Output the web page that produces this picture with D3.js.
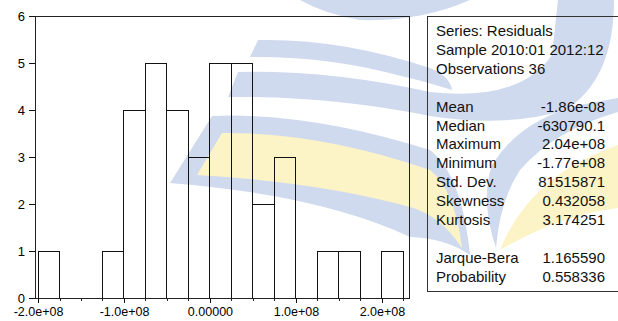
<!DOCTYPE html>
<html>
<head>
<meta charset="utf-8">
<script src="https://cdn.jsdelivr.net/npm/d3@7"></script>
<style>
  html, body { margin: 0; padding: 0; background: #fff; }
  svg { display: block; font-family: "Liberation Sans", Arial, sans-serif; }
</style>
</head>
<body>
<svg id="chart" width="618" height="321"></svg>
<script>
// ---- data ----
const binLower = [-2.0e8, -1.75e8, -1.5e8, -1.25e8, -1.0e8, -0.75e8, -0.5e8, -0.25e8,
                  0, 0.25e8, 0.5e8, 0.75e8, 1.0e8, 1.25e8, 1.5e8, 1.75e8, 2.0e8];
const binWidth = 0.25e8;
const counts = [1, 0, 0, 1, 4, 5, 4, 3, 5, 5, 2, 3, 0, 1, 1, 0, 1];
const xTickValues = [-2.0e8, -1.0e8, 0, 1.0e8, 2.0e8];
const xTickLabels = ["-2.0e+08", "-1.0e+08", "0.00000", "1.0e+08", "2.0e+08"];
const yTickValues = [0, 1, 2, 3, 4, 5, 6];
const headerLines = ["Series: Residuals", "Sample 2010:01 2012:12", "Observations 36"];
const statLabels = ["Mean", "Median", "Maximum", "Minimum", "Std. Dev.", "Skewness", "Kurtosis"];
const statValues = ["-1.86e-08", "-630790.1", "2.04e+08", "-1.77e+08", "81515871", "0.432058", "3.174251"];
const testLabels = ["Jarque-Bera", "Probability"];
const testValues = ["1.165590", "0.558336"];

// ---- layout ----
const svg = d3.select("#chart");
const plot = { left: 35, right: 409, top: 16, bottom: 298 };
const x = d3.scaleLinear().domain([-2.035e8, 2.315e8]).range([plot.left, plot.right]);
const y = d3.scaleLinear().domain([0, 6]).range([plot.bottom, plot.top]);

// ---- background watermark (decorative) ----
const wm = svg.append("g").attr("class", "watermark");
const blue = "#cfdaee", yellow = "#fcf4c6";
wm.append("path").attr("fill", blue)
  .attr("d", "M300,0 L470,0 Q420,22 360,20 Q325,14 300,0 Z");
wm.append("path").attr("fill", blue)
  .attr("d", "M250,57 L258,40 Q340,38 430,68 Q450,76 452,90 Q420,80 405,77 Q330,56 250,57 Z");
wm.append("path").attr("fill", blue)
  .attr("d", "M228,97 L238,72 Q330,70 430,92 Q520,102 552,55 L558,0 L614,0 Q614,80 565,110 Q505,128 430,116 Q330,96 228,97 Z");
wm.append("path").attr("fill", blue)
  .attr("d", "M170,183 L212,116 Q310,112 430,150 Q462,175 470,255 Q445,238 410,237 Q320,195 170,183 Z");
wm.append("path").attr("fill", yellow)
  .attr("d", "M197,175 L222,133 Q320,132 430,170 Q455,190 462,248 Q440,215 410,207 Q320,182 197,175 Z");
wm.append("path").attr("fill", blue)
  .attr("d", "M618,112 Q555,130 520,170 Q500,200 496,248 Q480,200 492,165 Q520,120 580,105 L618,98 Z");
wm.append("path").attr("fill", yellow)
  .attr("d", "M500,250 Q530,175 618,145 L618,208 Q560,215 500,250 Z");

// ---- histogram bars ----
const bars = binLower.map((lo, i) => ({ lo, hi: lo + binWidth, n: counts[i] })).filter(d => d.n > 0);
svg.append("g").selectAll("rect").data(bars).join("rect")
  .attr("x", d => x(d.lo))
  .attr("y", d => y(d.n))
  .attr("width", d => x(d.hi) - x(d.lo))
  .attr("height", d => y(0) - y(d.n))
  .attr("fill", "none")
  .attr("stroke", "#111")
  .attr("stroke-width", 1)
  .attr("shape-rendering", "crispEdges");

// ---- frame ----
svg.append("rect")
  .attr("x", plot.left).attr("y", plot.top)
  .attr("width", plot.right - plot.left).attr("height", plot.bottom - plot.top)
  .attr("fill", "none").attr("stroke", "#222").attr("stroke-width", 1)
  .attr("shape-rendering", "crispEdges");

// ---- x axis ----
const minorTicks = binLower.concat([binLower[binLower.length - 1] + binWidth]);
svg.append("g")
  .attr("transform", `translate(0,${plot.bottom})`)
  .call(d3.axisBottom(x).tickValues(minorTicks).tickSize(3).tickFormat(""))
  .call(g => g.select(".domain").remove())
  .call(g => g.selectAll("line").attr("stroke", "#222").attr("shape-rendering", "crispEdges"));
const xAxis = svg.append("g")
  .attr("transform", `translate(0,${plot.bottom})`)
  .call(d3.axisBottom(x).tickValues(xTickValues).tickSize(5).tickPadding(4)
    .tickFormat((d, i) => xTickLabels[i]));
xAxis.select(".domain").remove();
xAxis.selectAll("line").attr("stroke", "#111").attr("shape-rendering", "crispEdges");
xAxis.selectAll("text").attr("font-size", 12.5).attr("fill", "#000")
  .attr("font-family", "Liberation Sans, Arial, sans-serif");

// ---- y axis ----
const yAxis = svg.append("g")
  .attr("transform", `translate(${plot.left},0)`)
  .call(d3.axisLeft(y).tickValues(yTickValues).tickSize(6).tickPadding(4).tickFormat(d3.format("d")));
yAxis.select(".domain").remove();
yAxis.selectAll("line").attr("stroke", "#111").attr("shape-rendering", "crispEdges");
yAxis.selectAll("text").attr("font-size", 13).attr("fill", "#000")
  .attr("font-family", "Liberation Sans, Arial, sans-serif");

// ---- statistics box ----
const box = { left: 427, top: 16, bottom: 291 };
svg.append("rect")
  .attr("x", box.left).attr("y", box.top)
  .attr("width", 240).attr("height", box.bottom - box.top)
  .attr("fill", "none").attr("stroke", "#333").attr("stroke-width", 1)
  .attr("shape-rendering", "crispEdges");

const lineH = 18.9, base0 = 36, labelX = 436, valueX = 605;
const rows = [];
headerLines.forEach((t, i) => rows.push({ label: t, value: "", line: i }));
statLabels.forEach((t, i) => rows.push({ label: t, value: statValues[i], line: 4 + i }));
testLabels.forEach((t, i) => rows.push({ label: t, value: testValues[i], line: 12 + i }));

const st = svg.append("g").attr("font-size", 15).attr("fill", "#111");
st.selectAll("text.lab").data(rows).join("text")
  .attr("class", "lab")
  .attr("x", labelX)
  .attr("y", d => base0 + d.line * lineH)
  .text(d => d.label);
st.selectAll("text.val").data(rows.filter(d => d.value)).join("text")
  .attr("class", "val")
  .attr("x", valueX)
  .attr("y", d => base0 + d.line * lineH)
  .attr("text-anchor", "end")
  .text(d => d.value);
</script>
</body>
</html>
